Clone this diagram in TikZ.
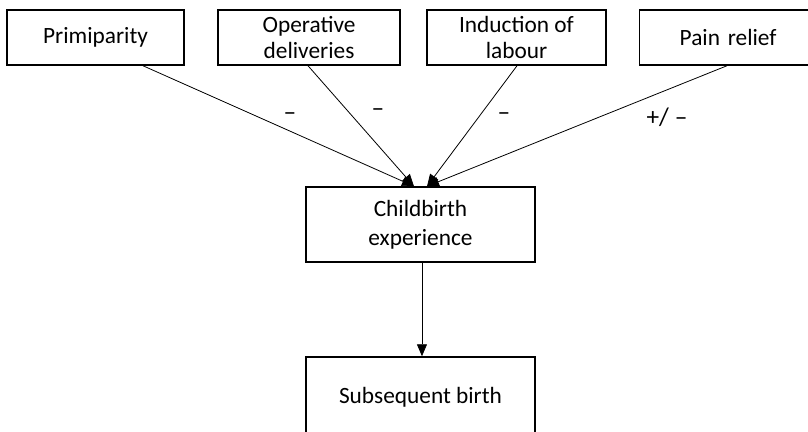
\documentclass[tikz,border=0pt]{standalone}
\usepackage{fontspec}
\setmainfont{Carlito}
\usetikzlibrary{arrows.meta}
\tikzset{factor/.style={draw, line width=1.1pt, align=center, inner sep=0pt,
    minimum height=41.25pt, font=\fontsize{17.5}{19}\selectfont}}
\tikzset{conn/.style={line width=0.6pt, -{Triangle[length=9pt, width=7.5pt]}}}
\tikzset{sign/.style={font=\fontsize{19}{19}\selectfont, inner sep=1pt}}

\begin{document}
\begin{tikzpicture}[x=0.75pt, y=-0.75pt]
    \useasboundingbox (0,0) rectangle (808,432);
    \clip (0,0) rectangle (808,432);
    % the four factors
    \node[factor, minimum width=132.75pt] (prim) at (95.5,37.5) {Primiparity};
    \node[factor, minimum width=136.5pt] (oper) at (309,37.5) {Operative\\deliveries};
    \node[factor, minimum width=134.25pt] (induc) at (516.5,37.5) {Induction of\\labour};
    \node[factor, anchor=west, inner xsep=30pt, text width=75pt, align=left] (pain) at (639,37.5) {Pain relief};
    % outcome boxes
    \node[factor, minimum width=171.75pt, minimum height=56.25pt,
        font=\fontsize{17.5}{22}\selectfont] (birth) at (420.5,224.5) {Childbirth\\experience};
    \node[factor, minimum width=171.75pt, minimum height=60pt] (subs) at (420.5,397) {Subsequent birth};
    % connectors
    \draw[conn] ([xshift=35.6pt]prim.south) -- ([xshift=-4.9pt]birth.north);
    \draw[conn] ([xshift=-0.75pt]oper.south) -- ([xshift=-4.9pt]birth.north);
    \draw[conn] ([xshift=0.4pt]induc.south) -- ([xshift=4.9pt]birth.north);
    \draw[conn] ([xshift=66pt]pain.south west) -- ([xshift=4.9pt]birth.north);
    \draw[conn] ([xshift=1.1pt]birth.south) -- ([xshift=1.1pt]subs.north);
    % signs
    \node[sign] (s1) at (290,117) {–};
    \node[sign] (s2) at (378,113) {–};
    \node[sign] (s3) at (504,117) {–};
    \node[sign] (s4) at (667,117) {+/ –};
\end{tikzpicture}
\end{document}
